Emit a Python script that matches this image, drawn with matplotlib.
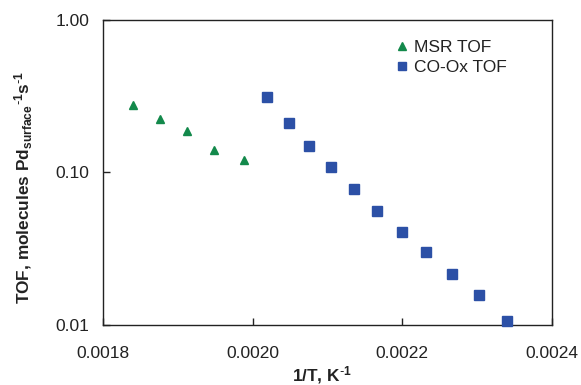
import matplotlib
matplotlib.use("Agg")
import matplotlib.pyplot as plt

plt.rcParams["font.family"] = ["Liberation Sans", "DejaVu Sans"]
plt.rcParams["mathtext.default"] = "regular"

# MSR turnover frequency
msr_x = [0.0018405, 0.0018762, 0.0019118, 0.0019483, 0.0019880]
msr_tof = [0.278, 0.224, 0.187, 0.141, 0.120]

# CO oxidation turnover frequency
cox_x = [0.0020196, 0.0020481, 0.0020757, 0.0021047, 0.0021354, 0.0021666,
         0.0022000, 0.0022312, 0.0022664, 0.0023020, 0.0023395]
cox_tof = [0.314, 0.212, 0.149, 0.1087, 0.0783, 0.0562,
           0.0409, 0.0300, 0.0217, 0.0156, 0.0106]

x_ticks = [0.0018, 0.0020, 0.0022, 0.0024]
x_labels = ["0.0018", "0.0020", "0.0022", "0.0024"]
y_ticks = [0.01, 0.1, 1.0]
y_labels = ["0.01", "0.10", "1.00"]

text_c = "#222222"
green = "#13894B"
blue = "#2C50A6"

fig = plt.figure(figsize=(5.81, 3.85), dpi=100)
ax = fig.add_axes([0.1773, 0.156, 0.7727, 0.792])

ax.plot(msr_x, msr_tof, "^", color=green, ms=6.3, mec=green,
        label="MSR TOF", clip_on=False, zorder=3)
ax.plot(cox_x, cox_tof, "s", color=blue, ms=6.8, mec=blue,
        label="CO-Ox TOF", clip_on=False, zorder=3)

ax.set_yscale("log")
ax.set_xlim(0.0018, 0.0024)
ax.set_ylim(0.01, 1.0)
ax.set_xticks(x_ticks)
ax.set_xticklabels(x_labels)
ax.set_yticks(y_ticks)
ax.set_yticklabels(y_labels)
ax.minorticks_off()
ax.tick_params(axis="x", direction="in", length=5, width=1, pad=15,
               labelsize=12.5, colors=text_c)
ax.tick_params(axis="y", direction="in", length=5, width=1, pad=10,
               labelsize=12.5, colors=text_c)

for s in ax.spines.values():
    s.set_linewidth(1.0)
    s.set_color(text_c)

ax.set_xlabel(r"1/T, K$^{\text{-}1}$", fontsize=12.4, fontweight="bold", color=text_c)
ax.set_ylabel(r"TOF, molecules Pd$_{surface}$$^{\text{-}1}$s$^{\text{-}1}$",
              fontsize=12.4, fontweight="bold", color=text_c)
ax.xaxis.set_label_coords(0.488, -0.128)
ax.yaxis.set_label_coords(-0.152, 0.45)

leg = ax.legend(loc="upper left", bbox_to_anchor=(0.655, 0.935), frameon=False,
                fontsize=12.5, handlelength=0.6, handletextpad=0.4,
                borderpad=0, borderaxespad=0, labelspacing=0.3, markerscale=0.85)
for t in leg.get_texts():
    t.set_color(text_c)

fig.savefig("out.png", dpi=100)
